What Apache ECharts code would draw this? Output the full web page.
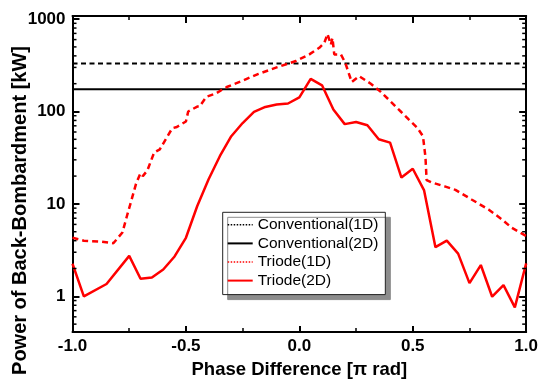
<!DOCTYPE html>
<html>
<head>
<meta charset="utf-8">
<script src="https://cdn.jsdelivr.net/npm/echarts@6/dist/echarts.min.js"></script>
<style>
  html, body { margin: 0; padding: 0; background: #fff; }
  #chart { width: 541px; height: 384px; }
</style>
</head>
<body>
<div id="chart"></div>
<script>
// Phase difference [π rad] vs. back-bombardment power [kW]
const xRange = [-1, 1];
const yRange = [0.41, 1080];

// Conventional gun: flat levels over the whole phase range
const conventional1D = [[-1, 331], [1, 331]];
const conventional2D = [[-1, 174], [1, 174]];

// Triode gun, 1D model
const triode1DPhase = [-1.0, -0.95, -0.87, -0.82, -0.78, -0.76, -0.74, -0.72, -0.70, -0.69, -0.67, -0.64, -0.615,
  -0.56, -0.54, -0.50, -0.49, -0.45, -0.44, -0.41, -0.37, -0.32, -0.25, -0.18, -0.10, -0.015, 0.044, 0.088, 0.11,
  0.124, 0.139, 0.146, 0.154, 0.183, 0.202, 0.231, 0.264, 0.315, 0.359, 0.403, 0.447, 0.483, 0.52, 0.545, 0.556,
  0.561, 0.586, 0.644, 0.688, 0.761, 0.834, 0.893, 0.937, 1.0];
const triode1DPower = [4.3, 4.0, 3.9, 3.75, 4.9, 7.4, 11, 16.5, 21.5, 20, 23, 36, 39,
  66, 68, 78, 100, 113, 113, 144, 156, 184, 216, 255, 300, 352, 415, 489, 552,
  690, 530, 624, 415, 415, 339, 208, 241, 200, 163, 128, 100, 81.5, 66.6, 54, 32,
  18.1, 17, 15.4, 14.2, 11.1, 8.7, 6.8, 5.5, 4.5];

// Triode gun, 2D model
const triode2DPhase = [-1.0, -0.95, -0.85, -0.75, -0.70, -0.65, -0.60, -0.55, -0.50, -0.45, -0.40, -0.35, -0.30,
  -0.25, -0.20, -0.15, -0.10, -0.05, 0.0, 0.05, 0.10, 0.15, 0.20, 0.25, 0.30, 0.35, 0.40, 0.45, 0.50, 0.55,
  0.60, 0.65, 0.70, 0.75, 0.80, 0.85, 0.90, 0.95, 1.0];
const triode2DPower = [2.25, 1.0, 1.36, 2.74, 1.55, 1.6, 1.95, 2.7, 4.3, 9.5, 18.5, 33, 54,
  75, 99, 112, 119, 122, 142, 225, 192, 105, 73, 77, 71, 50, 46, 19.3, 24, 14,
  3.4, 4.0, 2.9, 1.39, 2.18, 0.99, 1.32, 0.76, 2.27];

// Log minor tick positions (2..9 per decade)
const minorTickValues = [0.5, 0.6, 0.7, 0.8, 0.9,
  2, 3, 4, 5, 6, 7, 8, 9, 20, 30, 40, 50, 60, 70, 80, 90,
  200, 300, 400, 500, 600, 700, 800, 900];

const xTicks = { interval: 0.5 };

const FONT = "'Liberation Sans', Arial, Helvetica, sans-serif";
const zip = (a, b) => a.map((v, i) => [v, b[i]]);

const chart = echarts.init(document.getElementById('chart'), null, { renderer: 'canvas' });

const tickLabel = { fontFamily: FONT, fontSize: 17, fontWeight: 'bold', color: '#000' };
const axisLine = { show: true, onZero: false, lineStyle: { color: '#000', width: 2 } };

function isPow10(v) {
  const l = Math.log10(v);
  return Math.abs(l - Math.round(l)) < 1e-6;
}

chart.setOption({
  animation: false,
  backgroundColor: '#fff',
  grid: { left: 72.5, right: 13.5, top: 16, bottom: 46, containLabel: false },
  xAxis: [
    {
      type: 'value', min: xRange[0], max: xRange[1], interval: xTicks.interval,
      position: 'bottom',
      axisLine: axisLine,
      axisTick: { show: true, inside: true, length: 6, lineStyle: { color: '#000', width: 2 } },
      minorTick: { show: true, splitNumber: 2, length: 4, lineStyle: { color: '#000', width: 1.5 } },
      splitLine: { show: false },
      axisLabel: Object.assign({ margin: 6, formatter: v => v.toFixed(1) }, tickLabel),
      name: 'Phase Difference [\u03c0 rad]',
      nameLocation: 'middle',
      nameGap: 25,
      nameTextStyle: { fontFamily: FONT, fontSize: 18.5, fontWeight: 'bold', color: '#000' }
    },
    {
      type: 'value', min: xRange[0], max: xRange[1], interval: xTicks.interval,
      position: 'top',
      axisLine: axisLine,
      axisTick: { show: true, inside: true, length: 7, lineStyle: { color: '#000', width: 2 } },
      minorTick: { show: true, splitNumber: 2, length: 4, lineStyle: { color: '#000', width: 1.5 } },
      splitLine: { show: false },
      axisLabel: { show: false }
    }
  ],
  yAxis: [
    {
      type: 'log', logBase: 10, min: yRange[0], max: yRange[1],
      position: 'left',
      axisLine: axisLine,
      axisTick: { show: true, inside: true, length: 7, lineStyle: { color: '#000', width: 2 } },
      splitLine: { show: false },
      axisLabel: Object.assign({ margin: 7, showMinLabel: false, showMaxLabel: false,
        formatter: v => isPow10(v) ? String(Math.round(v)) : '' }, tickLabel)
    },
    {
      type: 'log', logBase: 10, min: yRange[0], max: yRange[1],
      position: 'right',
      axisLine: axisLine,
      axisTick: { show: true, inside: true, length: 7, lineStyle: { color: '#000', width: 2 } },
      splitLine: { show: false },
      axisLabel: { show: false }
    }
  ],
  legend: {
    orient: 'vertical',
    left: 222.7, top: 212.3,
    padding: [4.5, 7, 6, 4],
    itemWidth: 25, itemHeight: 14, itemGap: 2.6,
    backgroundColor: '#fff',
    borderColor: '#222', borderWidth: 1,
    shadowColor: '#8c8c8c', shadowBlur: 0, shadowOffsetX: 5, shadowOffsetY: 5,
    textStyle: { fontFamily: FONT, fontSize: 15.5, color: '#000' },
    itemStyle: { opacity: 0 },
    data: [
      { name: 'Conventional(1D)', lineStyle: { type: [1.5, 1.5], width: 1.5 } },
      { name: 'Conventional(2D)', lineStyle: { type: 'solid', width: 2 } },
      { name: 'Triode(1D)', lineStyle: { type: [1.5, 1.5], width: 1.5 } },
      { name: 'Triode(2D)', lineStyle: { type: 'solid', width: 2 } }
    ]
  },
  graphic: [
    {
      type: 'text',
      x: 20, y: 210.5,
      rotation: Math.PI / 2,
      style: {
        text: 'Power of Back-Bombardment [kW]',
        fontFamily: FONT, fontSize: 20, fontWeight: 'bold', fill: '#000',
        align: 'center', verticalAlign: 'middle'
      }
    }
  ],
  series: [
    {
      name: 'Conventional(1D)', type: 'line', data: conventional1D,
      symbol: 'none', showSymbol: false,
      lineStyle: { color: '#000', width: 2, type: [5, 3.5] },
      itemStyle: { color: '#000' }, z: 3
    },
    {
      name: 'Conventional(2D)', type: 'line', data: conventional2D,
      symbol: 'none', showSymbol: false,
      lineStyle: { color: '#000', width: 2, type: 'solid' },
      itemStyle: { color: '#000' }, z: 3
    },
    {
      name: 'Triode(1D)', type: 'line', data: zip(triode1DPhase, triode1DPower),
      symbol: 'none', showSymbol: false,
      lineStyle: { color: '#ff0000', width: 2.5, type: [6, 4] },
      itemStyle: { color: '#ff0000' }, z: 4
    },
    {
      name: 'Triode(2D)', type: 'line', data: zip(triode2DPhase, triode2DPower),
      symbol: 'none', showSymbol: false,
      lineStyle: { color: '#ff0000', width: 2.5, type: 'solid' },
      itemStyle: { color: '#ff0000' }, z: 4
    },
    {
      // minor ticks on the left and right log axes
      type: 'custom', silent: true, z: 5,
      data: minorTickValues.map(v => [xRange[0], v]),
      encode: { x: 0, y: 1 },
      renderItem: function (params, api) {
        const v = api.value(1);
        const l = api.coord([xRange[0], v]);
        const r = api.coord([xRange[1], v]);
        const st = { stroke: '#000', lineWidth: 1.5 };
        return {
          type: 'group',
          children: [
            { type: 'line', shape: { x1: l[0], y1: l[1], x2: l[0] + 4, y2: l[1] }, style: st },
            { type: 'line', shape: { x1: r[0] - 4, y1: r[1], x2: r[0], y2: r[1] }, style: st }
          ]
        };
      }
    }
  ]
});
</script>
</body>
</html>
